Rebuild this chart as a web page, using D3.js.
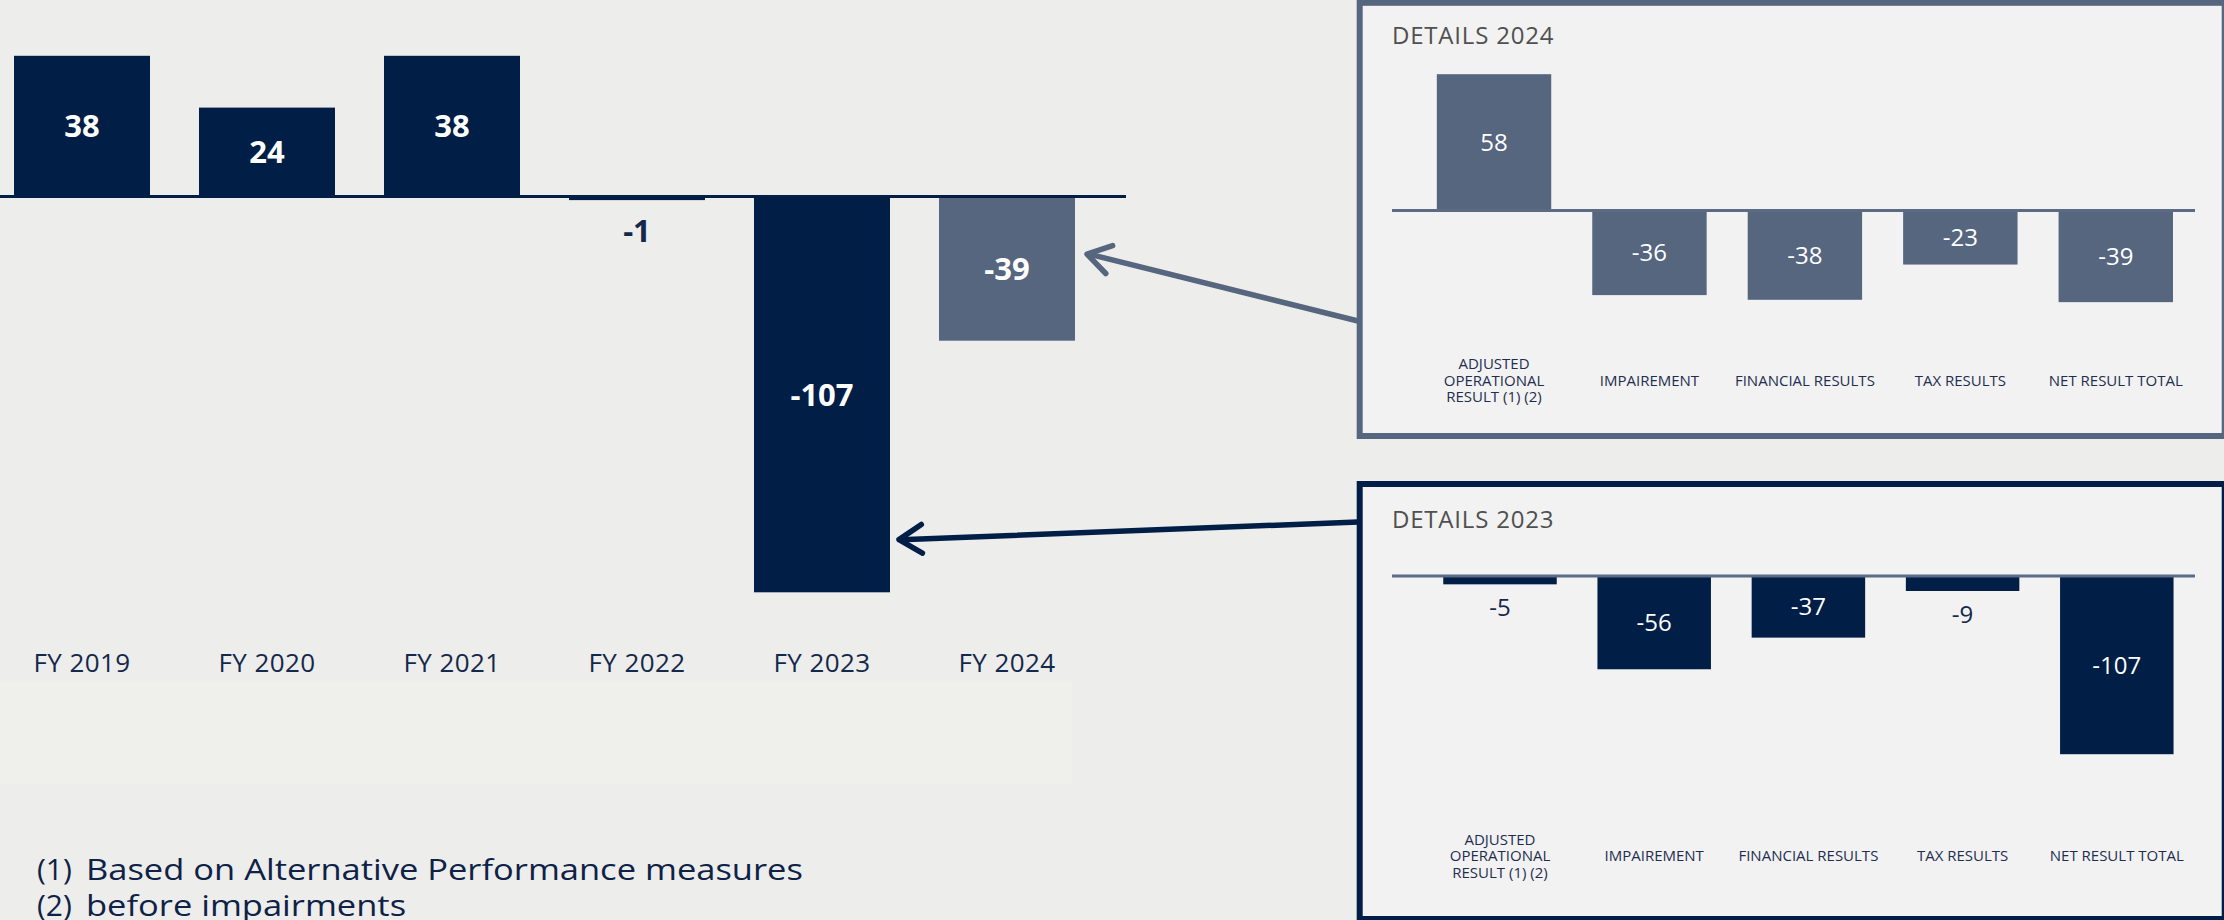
<!DOCTYPE html>
<html>
<head>
<meta charset="utf-8">
<script src="https://cdn.jsdelivr.net/npm/d3@7"></script>
<style>
  html, body { margin: 0; padding: 0; background: #ededeb; }
  svg { display: block; font-family: "Open Sans", "Noto Sans", sans-serif; }
</style>
</head>
<body>
<svg id="chart" width="2224" height="920"></svg>
<script>
// ---- data ----
const years = ["FY 2019", "FY 2020", "FY 2021", "FY 2022", "FY 2023", "FY 2024"];
const netResult = [38, 24, 38, -1, -107, -39];

const detailCategories = [
  ["ADJUSTED", "OPERATIONAL", "RESULT (1) (2)"],
  ["IMPAIREMENT"],
  ["FINANCIAL RESULTS"],
  ["TAX RESULTS"],
  ["NET RESULT TOTAL"]
];
const details2024 = [58, -36, -38, -23, -39];
const details2023 = [-5, -56, -37, -9, -107];

const footnoteMarks = ["(1)", "(2)"];
const footnoteTexts = ["Based on Alternative Performance measures", "before impairments"];

// ---- palette ----
const NAVY = "#001e46";
const SLATE = "#56667f";
const TEXT_NAVY = "#14284c";

const svg = d3.select("#chart");

// soft lighter band under the year axis
svg.append("rect")
  .attr("x", 0).attr("y", 681).attr("width", 1072).attr("height", 103)
  .attr("fill", "#efefec");

// ---- main chart: net result by fiscal year ----
const x = d3.scaleBand().domain(years)
  .range([-10.5, 1099.5]).paddingInner(0.265).paddingOuter(0.1325);
const y = d3.scaleLinear().domain([-110, 40]).range([603.4, 48.4]);

const main = svg.append("g");
const mainData = years.map((k, i) => ({ key: k, value: netResult[i] }));
const barFill = d => d.key === years[years.length - 1] ? SLATE : NAVY;

main.selectAll("rect.bar").data(mainData).join("rect")
  .attr("class", "bar")
  .attr("x", d => x(d.key))
  .attr("width", x.bandwidth())
  .attr("y", d => Math.min(y(d.value), y(0)))
  .attr("height", d => Math.abs(y(d.value) - y(0)))
  .attr("fill", barFill);

main.append("line")
  .attr("x1", 0).attr("x2", 1126)
  .attr("y1", y(0)).attr("y2", y(0))
  .attr("stroke", NAVY).attr("stroke-width", 3);

main.selectAll("text.val").data(mainData).join("text")
  .attr("class", "val")
  .attr("x", d => x(d.key) + x.bandwidth() / 2)
  .attr("y", d => {
    const h = Math.abs(y(d.value) - y(0));
    return h > 40 ? (y(d.value) + y(0)) / 2 : y(d.value) + 31;
  })
  .attr("dy", "0.36em")
  .attr("text-anchor", "middle")
  .attr("font-size", 31).attr("font-weight", 700)
  .attr("fill", d => Math.abs(y(d.value) - y(0)) > 40 ? "#ffffff" : TEXT_NAVY)
  .text(d => d.value);

main.selectAll("text.year").data(years).join("text")
  .attr("class", "year")
  .attr("x", d => x(d) + x.bandwidth() / 2)
  .attr("y", 672)
  .attr("text-anchor", "middle")
  .attr("font-size", 26)
  .attr("letter-spacing", 0.4)
  .attr("fill", TEXT_NAVY)
  .text(d => d);

// ---- footnotes (text set in a horizontally widened face) ----
const notes = svg.append("g").attr("fill", "#0e2247").attr("font-size", 30);
footnoteMarks.forEach((m, i) => {
  const by = 880 + i * 36;
  notes.append("text")
    .attr("x", 37).attr("y", by)
    .text(m);
  notes.append("text")
    .attr("transform", `translate(86,${by}) scale(1.15,1)`)
    .text(footnoteTexts[i]);
});

// ---- detail panels ----
function drawPanel(cfg) {
  const g = svg.append("g");
  g.append("rect")
    .attr("x", 1359.7).attr("y", cfg.boxY)
    .attr("width", 865).attr("height", cfg.boxH)
    .attr("fill", "#f2f2f2")
    .attr("stroke", cfg.border).attr("stroke-width", 6);

  g.append("text")
    .attr("x", 1392).attr("y", cfg.titleY)
    .attr("font-size", 24).attr("fill", "#505050")
    .attr("letter-spacing", 0.8)
    .text(cfg.title);

  const px = d3.scaleBand().domain(detailCategories.map(c => c.join(" ")))
    .range(cfg.xRange).paddingInner(0.264).paddingOuter(0.132);
  const py = d3.scaleLinear().domain(cfg.yDomain).range(cfg.yRange);
  const data = detailCategories.map((c, i) => ({ key: c.join(" "), lines: c, value: cfg.values[i] }));

  g.selectAll("rect.bar").data(data).join("rect")
    .attr("class", "bar")
    .attr("x", d => px(d.key))
    .attr("width", px.bandwidth())
    .attr("y", d => Math.min(py(d.value), py(0)))
    .attr("height", d => Math.abs(py(d.value) - py(0)))
    .attr("fill", cfg.barColor);

  g.append("line")
    .attr("x1", 1392).attr("x2", 2195)
    .attr("y1", py(0)).attr("y2", py(0))
    .attr("stroke", "#5c6b84").attr("stroke-width", 3);

  g.selectAll("text.val").data(data).join("text")
    .attr("class", "val")
    .attr("x", d => px(d.key) + px.bandwidth() / 2)
    .attr("y", d => {
      const h = Math.abs(py(d.value) - py(0));
      return h > 30 ? (py(d.value) + py(0)) / 2 : py(d.value) + 23;
    })
    .attr("dy", "0.36em")
    .attr("text-anchor", "middle")
    .attr("font-size", 24)
    .attr("fill", d => Math.abs(py(d.value) - py(0)) > 30 ? "#ffffff" : TEXT_NAVY)
    .text(d => d.value);

  const cat = g.selectAll("text.cat").data(data).join("text")
    .attr("class", "cat")
    .attr("text-anchor", "middle")
    .attr("font-size", 15)
    .attr("fill", "#1f2e50");
  cat.each(function (d) {
    const t = d3.select(this);
    const cx = px(d.key) + px.bandwidth() / 2;
    const n = d.lines.length;
    d.lines.forEach((ln, j) => {
      t.append("tspan")
        .attr("x", cx)
        .attr("y", cfg.labelY + (j - (n - 1) / 2) * 16.5)
        .attr("dy", "0.36em")
        .text(ln);
    });
  });
}

drawPanel({
  title: "DETAILS 2024", values: details2024, border: SLATE, barColor: SLATE,
  boxY: 2.8, boxH: 433.2, titleY: 43.5,
  xRange: [1416.3, 2193.5], yDomain: [-40, 60], yRange: [304.5, 69.5], labelY: 380.5
});

drawPanel({
  title: "DETAILS 2023", values: details2023, border: NAVY, barColor: NAVY,
  boxY: 484, boxH: 435, titleY: 527.5,
  xRange: [1422.9, 2193.9], yDomain: [-110, 0], yRange: [759.2, 576], labelY: 856
});

// ---- arrows linking panels to their fiscal-year bars ----
function arrow(from, tip, color) {
  const g = svg.append("g")
    .attr("stroke", color).attr("stroke-width", 5.5)
    .attr("stroke-linecap", "round").attr("stroke-linejoin", "round")
    .attr("fill", "none");
  g.append("line")
    .attr("x1", from[0]).attr("y1", from[1])
    .attr("x2", tip[0] + 2).attr("y2", tip[1]);
  const ang = Math.atan2(from[1] - tip[1], from[0] - tip[0]);
  const len = 27, spread = 0.56;
  const a1 = [tip[0] + len * Math.cos(ang - spread), tip[1] + len * Math.sin(ang - spread)];
  const a2 = [tip[0] + len * Math.cos(ang + spread), tip[1] + len * Math.sin(ang + spread)];
  g.append("path").attr("d", `M${a1[0]},${a1[1]}L${tip[0]},${tip[1]}L${a2[0]},${a2[1]}`);
}

const bar24 = mainData[5], bar23 = mainData[4];
arrow([1358, 321],
  [x(bar24.key) + x.bandwidth() + 12, y(0) + 0.40 * (y(bar24.value) - y(0))], SLATE);
arrow([1358, 522],
  [x(bar23.key) + x.bandwidth() + 9, y(0) + 0.867 * (y(bar23.value) - y(0))], NAVY);
</script>
</body>
</html>
